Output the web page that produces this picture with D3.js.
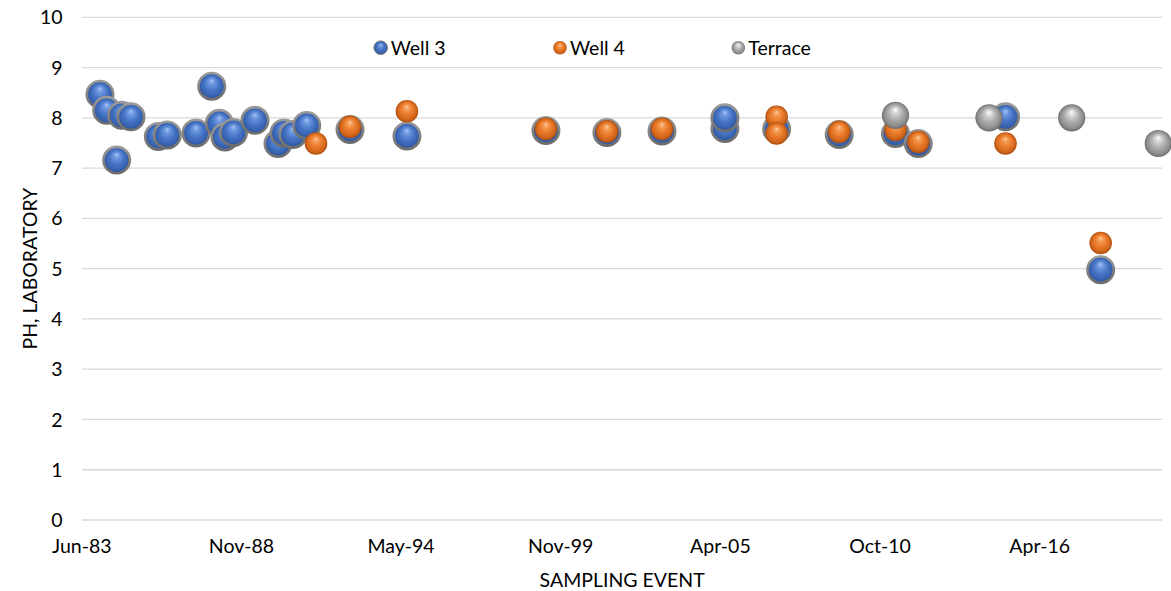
<!DOCTYPE html>
<html>
<head>
<meta charset="utf-8">
<script src="https://cdn.jsdelivr.net/npm/d3@7"></script>
<style>
  html, body { margin: 0; padding: 0; background: #ffffff; }
  svg { display: block; }
  text { font-family: Lato, "Open Sans", sans-serif; fill: #000; }
</style>
</head>
<body>
<svg id="chart" width="1171" height="591"></svg>
<script>
// ---------- data ----------
const well3Dates = ["1984-01-21","1984-04-14","1984-08-17","1984-10-19","1985-02-13",
  "1986-01-21","1986-05-13","1987-05-08","1987-11-21","1988-02-24","1988-05-05","1988-08-20",
  "1989-05-16","1990-02-28","1990-05-14","1990-09-04","1991-02-23","1992-08-18","1994-08-01",
  "1999-05-08","2001-06-10","2003-05-01","2005-06-27","2005-06-27","2007-04-06","2009-05-29",
  "2011-05-04","2012-02-13","2015-02-10","2018-05-17"];
const well3Values = [8.47, 8.15, 7.16, 8.05, 8.02,
  7.63, 7.66, 7.70, 8.63, 7.89, 7.62, 7.71,
  7.95, 7.49, 7.70, 7.67, 7.85, 7.77, 7.64,
  7.75, 7.71, 7.74, 7.79, 8.00, 7.78, 7.67,
  7.69, 7.49, 8.02, 4.98];

const well4Dates = ["1991-06-19","1992-08-18","1994-08-01","1999-05-08","2001-06-10","2003-05-01",
  "2007-04-06","2007-04-06","2009-05-29","2011-05-04","2012-02-13","2015-02-10","2018-05-17"];
const well4Values = [7.49, 7.82, 8.13, 7.78, 7.73, 7.78,
  8.02, 7.69, 7.72, 7.76, 7.52, 7.49, 5.51];

const terraceDates = ["2011-05-04","2014-07-18","2017-05-19","2020-05-08"];
const terraceValues = [8.05, 8.00, 8.00, 7.49];

const seriesNames = ["Well 3", "Well 4", "Terrace"];
const xTickDates = ["1983-06-01","1988-11-21","1994-05-13","1999-11-03","2005-04-25","2010-10-16","2016-04-07"];
const xTickLabels = ["Jun-83","Nov-88","May-94","Nov-99","Apr-05","Oct-10","Apr-16"];
const xDomain = ["1983-06-01","2020-06-27"];
const yTicks = [0,1,2,3,4,5,6,7,8,9,10];
const yTitle = "PH, LABORATORY";
const xTitle = "SAMPLING EVENT";

// ---------- setup ----------
const parse = d3.timeParse("%Y-%m-%d");
const svg = d3.select("#chart");
const W = 1171, H = 591;
const plot = {left: 82, right: 1162.3, top: 17.3, bottom: 520};
const FS = 19.5;

const x = d3.scaleTime().domain(xDomain.map(parse)).range([plot.left - 0.7, plot.right]);
const y = d3.scaleLinear().domain([0, 10]).range([plot.bottom, plot.top]);

// gradients
const defs = svg.append("defs");
function sphere(id, stops) {
  const g = defs.append("radialGradient").attr("id", id)
    .attr("cx", "50%").attr("cy", "50%").attr("r", "50%")
    .attr("fx", "50%").attr("fy", "28%");
  stops.forEach(s => g.append("stop").attr("offset", s[0]).attr("stop-color", s[1]));
}
sphere("gBlue", [["0%","#a8c4f2"],["22%","#6d98e0"],["55%","#4675c6"],["85%","#3560ad"],["100%","#2b4f92"]]);
sphere("gOrange", [["0%","#fbd0a6"],["22%","#f59a52"],["55%","#ea7a2a"],["85%","#cf6419"],["100%","#a84d10"]]);
sphere("gGrey", [["0%","#ffffff"],["22%","#d6d6d6"],["55%","#ababab"],["85%","#8c8c8c"],["100%","#6b6b6b"]]);
const ring = defs.append("linearGradient").attr("id", "gRing").attr("x1","0").attr("y1","0").attr("x2","0").attr("y2","1");
ring.append("stop").attr("offset","0%").attr("stop-color","#9a9a9a");
ring.append("stop").attr("offset","100%").attr("stop-color","#6e6e6e");

// gridlines
svg.append("g").selectAll("line").data(yTicks).join("line")
  .attr("x1", plot.left).attr("x2", plot.right)
  .attr("y1", d => y(d)).attr("y2", d => y(d))
  .attr("stroke", "#d9d9d9").attr("stroke-width", 1.3);

// y axis labels
const yAxis = d3.axisLeft(y).tickValues(yTicks).tickSize(0).tickPadding(0);
const yg = svg.append("g").attr("transform", `translate(${62.5},0)`).call(yAxis);
yg.select(".domain").remove();
yg.selectAll("text").attr("font-family", "Lato, 'Open Sans', sans-serif")
  .attr("font-size", FS).attr("fill", "#000").attr("dy", null).attr("dominant-baseline", "auto")
  .attr("y", 6.6).attr("x", 0).attr("text-anchor", "end");

// x axis labels
const xAxis = d3.axisBottom(x).tickValues(xTickDates.map(parse))
  .tickFormat((d, i) => xTickLabels[i]).tickSize(0).tickPadding(0);
const xg = svg.append("g").attr("transform", `translate(0,${553.3})`).call(xAxis);
xg.select(".domain").remove();
xg.selectAll("text").attr("font-family", "Lato, 'Open Sans', sans-serif")
  .attr("font-size", FS).attr("fill", "#000").attr("dy", null).attr("y", 0);

// axis titles
svg.append("text").attr("x", (plot.left + plot.right) / 2).attr("y", 587.3)
  .attr("text-anchor", "middle").attr("font-size", FS).text(xTitle);
svg.append("text").attr("transform", `translate(36.7,${(plot.top + plot.bottom) / 2}) rotate(-90)`)
  .attr("text-anchor", "middle").attr("font-size", FS).text(yTitle);

// points
function pts(dates, vals) { return dates.map((d, i) => ({date: parse(d), v: vals[i]})); }
const gPts = svg.append("g");
gPts.append("g").selectAll("circle").data(pts(well3Dates, well3Values)).join("circle")
  .attr("cx", d => x(d.date)).attr("cy", d => y(d.v)).attr("r", 13.2)
  .attr("fill", "url(#gBlue)").attr("stroke", "url(#gRing)").attr("stroke-width", 2.6);
gPts.append("g").selectAll("circle").data(pts(well4Dates, well4Values)).join("circle")
  .attr("cx", d => x(d.date)).attr("cy", d => y(d.v)).attr("r", 11.3)
  .attr("fill", "url(#gOrange)");
gPts.append("g").selectAll("circle").data(pts(terraceDates, terraceValues)).join("circle")
  .attr("cx", d => x(d.date)).attr("cy", d => y(d.v)).attr("r", 13.6)
  .attr("fill", "url(#gGrey)");

// legend
const legendX = [380.7, 560, 738.3];
const legendFill = ["url(#gBlue)", "url(#gOrange)", "url(#gGrey)"];
const lg = svg.append("g").selectAll("g").data(seriesNames).join("g")
  .attr("transform", (d, i) => `translate(${legendX[i]},47.7)`);
lg.append("circle").attr("r", 6.8).attr("fill", (d, i) => legendFill[i])
  .attr("stroke", (d, i) => i === 0 ? "#7f7f7f" : "none").attr("stroke-width", 1);
lg.append("text").attr("x", 10).attr("y", 7.3).attr("font-size", FS).text(d => d);
</script>
</body>
</html>
